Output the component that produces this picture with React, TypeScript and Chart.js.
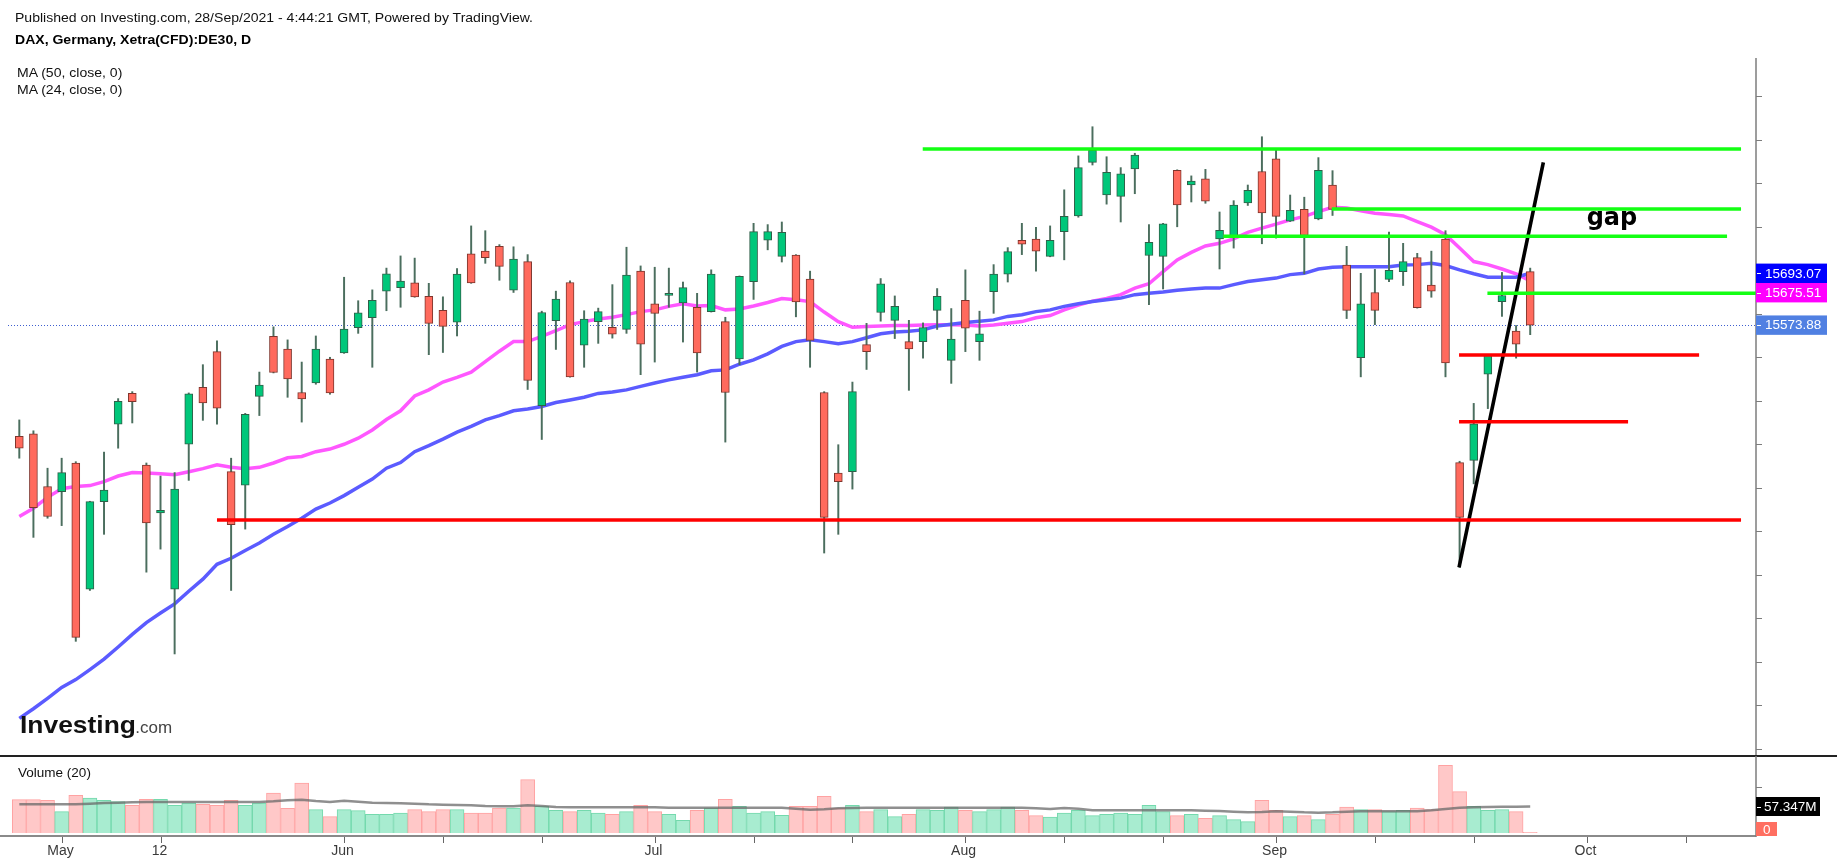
import React, { useEffect, useRef } from 'react';
import { Chart, registerables } from 'chart.js';

Chart.register(...registerables);

// ---------- data (bar index 0 = 28 Apr 2021) ----------
const OPEN = [15318,15324,15203,15191,15257,14967,15168,15346,15417,15252,15142,14967,15300,15431,15513,15237,15206,15410,15548,15519,15419,15441,15496,15510,15568,15591,15652,15660,15671,15640,15608,15581,15738,15744,15755,15654,15720,15389,15584,15672,15528,15582,15569,15564,15698,15623,15642,15625,15615,15605,15582,15496,15674,15769,15732,15735,15680,15419,15234,15237,15529,15603,15585,15536,15536,15608,15493,15631,15536,15651,15691,15769,15772,15732,15789,15825,15948,15873,15870,15933,15734,15732,15930,15896,15910,15772,15778,15855,15927,15956,15813,15840,15818,15896,15712,15499,15649,15679,15697,15729,15666,15772,15258,15263,15461,15628,15560,15697];
const HIGH = [15356,15331,15245,15268,15260,15169,15282,15405,15421,15257,15227,15235,15418,15483,15538,15268,15371,15466,15570,15540,15489,15549,15500,15684,15630,15655,15705,15733,15728,15670,15639,15704,15802,15791,15759,15754,15736,15606,15652,15676,15607,15613,15667,15753,15710,15707,15705,15673,15647,15701,15592,15687,15808,15805,15811,15736,15698,15421,15299,15443,15578,15681,15641,15585,15579,15658,15612,15701,15606,15713,15752,15808,15799,15802,15885,15963,16030,15961,15936,15969,15805,15808,15931,15917,15932,15834,15860,15896,16007,15979,15873,15868,15959,15929,15755,15693,15702,15788,15762,15739,15744,15791,15261,15394,15506,15695,15573,15705];
const LOW = [15268,15086,15130,15113,14847,14964,15093,15291,15349,15006,15059,14818,15217,15355,15346,14964,15105,15366,15464,15408,15351,15438,15415,15509,15555,15477,15607,15615,15638,15506,15511,15549,15670,15716,15677,15649,15426,15311,15518,15454,15477,15532,15544,15555,15460,15489,15615,15535,15466,15604,15305,15483,15633,15747,15719,15593,15477,15050,15093,15197,15472,15583,15543,15424,15498,15564,15440,15513,15493,15601,15673,15736,15698,15731,15724,15822,15942,15852,15811,15876,15621,15657,15800,15857,15854,15703,15751,15849,15761,15774,15812,15692,15816,15826,15589,15455,15575,15674,15665,15613,15638,15455,15017,15209,15382,15594,15498,15552];
const CLOSE = [15291,15154,15134,15235,14856,15168,15195,15399,15398,15119,15148,15197,15416,15395,15383,15115,15369,15436,15465,15450,15404,15519,15418,15565,15602,15631,15692,15675,15639,15578,15571,15691,15671,15729,15709,15726,15447,15603,15634,15455,15588,15605,15553,15689,15530,15601,15647,15660,15510,15691,15419,15686,15789,15789,15787,15627,15539,15132,15214,15421,15513,15669,15617,15519,15568,15640,15542,15567,15554,15691,15743,15760,15744,15769,15824,15936,15976,15925,15922,15965,15764,15807,15850,15905,15859,15792,15850,15884,15832,15824,15838,15780,15930,15840,15608,15623,15608,15700,15720,15614,15652,15487,15132,15347,15505,15642,15530,15573.88];

const MA50 = [14670,14692,14716,14741,14759,14782,14806,14834,14863,14890,14912,14933,14962,14990,15024,15038,15056,15073,15093,15111,15130,15151,15165,15182,15201,15220,15245,15258,15283,15297,15312,15328,15341,15356,15366,15377,15381,15387,15396,15402,15408,15417,15420,15425,15433,15441,15448,15454,15460,15469,15471,15484,15494,15508,15525,15536,15540,15536,15531,15536,15545,15554,15558,15560,15563,15572,15576,15580,15583,15586,15594,15598,15605,15609,15617,15623,15628,15632,15636,15644,15647,15650,15654,15657,15659,15659,15667,15674,15678,15682,15690,15693,15703,15707,15708,15708,15708,15708,15712,15713,15716,15711,15701,15692,15684,15684,15684,15693.07];
const MA24 = [15134,15153,15178,15198,15203,15205,15214,15227,15235,15234,15232,15230,15237,15244,15253,15247,15244,15247,15257,15269,15272,15283,15289,15300,15314,15333,15357,15377,15411,15425,15443,15454,15466,15490,15514,15536,15536,15548,15561,15575,15582,15588,15592,15598,15605,15609,15617,15623,15618,15619,15609,15611,15618,15626,15635,15632,15628,15604,15582,15569,15571,15572,15573,15573,15574,15575,15575,15574,15572,15574,15578,15582,15591,15596,15609,15620,15629,15635,15644,15659,15669,15697,15724,15741,15756,15762,15772,15787,15797,15806,15816,15824,15835,15845,15843,15837,15831,15828,15825,15812,15799,15782,15751,15720,15713,15703,15692,15675.51];

// volume in millions
const VOLUME = [72.1,72.1,70.7,46.2,81.5,75.7,70.7,67.8,59.9,72.9,72.9,59.9,64.9,62.0,59.9,70.7,59.9,64.9,86.6,53.4,108.2,50.5,35.3,50.5,48.3,40.4,40.4,43.3,50.5,46.2,50.5,50.5,43.3,43.3,54.1,54.1,115.4,57.7,49.0,46.2,49.0,43.3,40.4,46.2,59.9,46.2,40.4,27.4,49.0,54.1,72.9,57.7,43.3,46.2,38.2,57.7,57.7,79.3,54.1,59.9,46.2,50.5,35.3,40.4,50.5,49.0,56.3,49.0,46.2,50.5,56.3,49.0,37.5,34.6,43.3,49.0,37.5,40.4,43.3,40.4,59.9,46.2,37.5,40.4,31.7,37.5,28.9,24.5,70.7,49.0,35.3,37.5,28.9,40.4,56.3,50.5,50.5,46.2,49.0,54.1,50.5,146.4,89.4,57.7,49.0,50.5,46.2,1.4];
const VOLUME_MA = [62.0,62.0,62.0,62.0,62.0,63.5,64.9,65.6,66.4,67.1,67.1,67.1,67.1,67.1,67.1,67.1,67.1,67.1,68.5,70.7,72.1,69.2,67.1,70.0,67.8,65.6,64.9,64.2,63.5,62.0,61.3,60.6,59.9,58.4,57.7,57.7,59.9,58.4,56.3,55.5,55.5,55.5,55.5,55.5,55.5,55.5,54.8,54.8,54.8,54.8,54.8,54.8,54.8,54.8,54.8,52.7,50.5,51.2,53.4,54.1,54.8,54.8,54.8,54.8,54.8,54.8,54.8,54.8,54.8,54.8,54.8,54.8,53.4,51.9,54.1,52.7,49.0,49.0,49.0,49.0,49.0,49.0,49.0,49.0,48.3,47.6,46.2,44.7,45.4,46.9,46.2,44.7,44.0,44.7,46.2,46.9,46.9,46.9,46.9,46.9,49.0,51.9,54.8,55.5,56.3,57.0,57.0,57.347];

const TICK_IDX = [3,10,23,30,37,45,52,59,67,74,81,89,96,103,111,118];
const TICK_LABELS = ['May','12','Jun','','','Jul','','','Aug','','','Sep','','','Oct',''];

// drawn support / resistance levels (bar index range, price)
const GREEN_LEVELS = [15979, 15841, 15778, 15647];
const GREEN_FROM = [63.98, 92.95, 85.27, 103.97];
const GREEN_TO = [121.93, 121.93, 120.94, 123.0];
const RED_LEVELS = [15126, 15505, 15352];
const RED_FROM = [14.0, 101.96, 101.96];
const RED_TO = [121.93, 118.96, 113.93];
const TREND_X = [101.96, 107.93];
const TREND_Y = [15017, 15948];
const GAP_TEXT = { x: 111.0, y: 15803, text: 'gap' };

const LAST_MA50 = 15693.07;
const LAST_MA24 = 15675.51;
const LAST_CLOSE = 15573.88;
const VOL_MA_LABEL = '57.347M';
const VOL_MA_LAST = 57.347;

// ---------- layout ----------
const W = 1837;
const X_MIN = -1.367;
const X_MAX = 122.99;
const Y_MIN = 14588;
const Y_MAX = 16188;
const FONT = '"Liberation Sans", Arial, sans-serif';

const idx = OPEN.map((_, i) => i);
const up = idx.map((i) => CLOSE[i] >= OPEN[i]);

function lvl(from: number, to: number, p: number) {
  return [{ x: from, y: p }, { x: to, y: p }];
}

export default function App() {
  const mainRef = useRef<HTMLCanvasElement | null>(null);
  const volRef = useRef<HTMLCanvasElement | null>(null);

  useEffect(() => {
    if (!mainRef.current || !volRef.current) return;

    const mainOverlay = {
      id: 'mainOverlay',
      beforeDatasetsDraw(chart: any) {
        const { ctx, chartArea, scales } = chart;
        const y = scales.y.getPixelForValue(LAST_CLOSE);
        ctx.save();
        ctx.strokeStyle = '#3e5fd0';
        ctx.lineWidth = 1;
        ctx.setLineDash([1, 2]);
        ctx.beginPath();
        ctx.moveTo(8, Math.round(y) + 0.5);
        ctx.lineTo(chartArea.right, Math.round(y) + 0.5);
        ctx.stroke();
        ctx.restore();
      },
      afterDraw(chart: any) {
        const { ctx, chartArea, scales } = chart;
        const ys = scales.y;
        const xs = scales.x;
        const ax = chartArea.right;
        ctx.save();
        ctx.strokeStyle = '#7d7d7d';
        ctx.lineWidth = 1.5;
        ctx.beginPath();
        ctx.moveTo(ax, chartArea.top);
        ctx.lineTo(ax, chart.height);
        ctx.stroke();
        ctx.lineWidth = 1;
        for (let v = Math.ceil(Y_MIN / 100) * 100; v <= Y_MAX; v += 100) {
          const py = Math.round(ys.getPixelForValue(v)) + 0.5;
          ctx.beginPath();
          ctx.moveTo(ax, py);
          ctx.lineTo(ax + 6, py);
          ctx.stroke();
        }
        ctx.fillStyle = '#000';
        ctx.font = 'bold 24px "DejaVu Sans", sans-serif';
        ctx.textAlign = 'left';
        ctx.textBaseline = 'alphabetic';
        ctx.fillText(GAP_TEXT.text, xs.getPixelForValue(GAP_TEXT.x), ys.getPixelForValue(GAP_TEXT.y));
        const h = 19.4;
        const yB = ys.getPixelForValue(LAST_MA50);
        const yM = Math.max(ys.getPixelForValue(LAST_MA24), yB + h);
        const yC = ys.getPixelForValue(LAST_CLOSE);
        const tags = [
          { y: yB, c: '#0000ff', t: LAST_MA50.toFixed(2) },
          { y: yM, c: '#ff00ff', t: LAST_MA24.toFixed(2) },
          { y: yC, c: '#5080e2', t: LAST_CLOSE.toFixed(2) },
        ];
        ctx.font = '13.5px ' + FONT;
        ctx.textBaseline = 'middle';
        for (const tg of tags) {
          ctx.fillStyle = tg.c;
          ctx.fillRect(ax, tg.y - h / 2, 71, h);
          ctx.strokeStyle = '#ffffff';
          ctx.lineWidth = 1;
          ctx.beginPath();
          ctx.moveTo(ax + 1, Math.round(tg.y) + 0.5);
          ctx.lineTo(ax + 5, Math.round(tg.y) + 0.5);
          ctx.stroke();
          ctx.fillStyle = '#ffffff';
          ctx.fillText(tg.t, ax + 9, tg.y + 0.5);
        }
        ctx.restore();
      },
    };

    const volOverlay = {
      id: 'volOverlay',
      afterDraw(chart: any) {
        const { ctx, chartArea, scales } = chart;
        const xs = scales.x;
        const ys = scales.y;
        const ax = chartArea.right;
        const by = chartArea.bottom + 3;
        ctx.save();
        ctx.strokeStyle = '#8a8a8a';
        ctx.lineWidth = 2;
        ctx.beginPath();
        ctx.moveTo(0, by);
        ctx.lineTo(ax, by);
        ctx.stroke();
        ctx.strokeStyle = '#7d7d7d';
        ctx.lineWidth = 1.5;
        ctx.beginPath();
        ctx.moveTo(ax, 0);
        ctx.lineTo(ax, by + 1);
        ctx.stroke();
        ctx.lineWidth = 1;
        for (const v of [50, 100]) {
          const py = Math.round(ys.getPixelForValue(v)) + 0.5;
          ctx.beginPath();
          ctx.moveTo(ax, py);
          ctx.lineTo(ax + 6, py);
          ctx.stroke();
        }
        ctx.strokeStyle = '#666';
        ctx.fillStyle = '#3a3a3a';
        ctx.font = '14px ' + FONT;
        ctx.textAlign = 'center';
        ctx.textBaseline = 'middle';
        TICK_IDX.forEach((t, k) => {
          const px = Math.round(xs.getPixelForValue(t)) + 0.5;
          ctx.beginPath();
          ctx.moveTo(px, by + 1);
          ctx.lineTo(px, by + 7);
          ctx.stroke();
          if (TICK_LABELS[k]) ctx.fillText(TICK_LABELS[k], px - 2, by + 15);
        });
        const h = 19;
        const yv = ys.getPixelForValue(VOL_MA_LAST);
        ctx.fillStyle = '#000';
        ctx.fillRect(ax, yv - h / 2, 64, h);
        ctx.fillStyle = '#fff';
        ctx.textAlign = 'left';
        ctx.font = '13.5px ' + FONT;
        ctx.fillText(VOL_MA_LABEL, ax + 8, yv + 0.5);
        ctx.strokeStyle = '#fff';
        ctx.beginPath();
        ctx.moveTo(ax + 1, Math.round(yv) + 0.5);
        ctx.lineTo(ax + 5, Math.round(yv) + 0.5);
        ctx.stroke();
        ctx.fillStyle = '#ff6f61';
        ctx.fillRect(ax, by - 14, 21, 14);
        ctx.fillStyle = '#fff';
        ctx.fillText('0', ax + 7, by - 6);
        ctx.restore();
      },
    };

    const lineBase = { type: 'line' as const, pointRadius: 0, tension: 0, fill: false };

    const main = new Chart(mainRef.current, {
      type: 'bar',
      data: {
        datasets: [
          { ...lineBase, label: 'MA50', data: MA50.map((v, i) => ({ x: i, y: v })), borderColor: '#5b5bff', borderWidth: 3.5, order: 5 } as any,
          { ...lineBase, label: 'MA24', data: MA24.map((v, i) => ({ x: i, y: v })), borderColor: '#ff57ff', borderWidth: 3.5, order: 5 } as any,
          {
            type: 'bar', label: 'wick', data: idx.map((i) => ({ x: i, y: [LOW[i], HIGH[i]] })),
            backgroundColor: '#4b6e5e', barThickness: 1.3, grouped: false, order: 2,
          } as any,
          {
            type: 'bar', label: 'body', data: idx.map((i) => ({ x: i, y: [OPEN[i], CLOSE[i]] })),
            backgroundColor: idx.map((i) => (up[i] ? '#00c77a' : '#ff6a5d')),
            borderColor: idx.map((i) => (up[i] ? '#2f5f48' : '#7e352d')),
            borderWidth: 1, borderSkipped: false, barThickness: 8, grouped: false, minBarLength: 2, order: 1,
          } as any,
          ...GREEN_LEVELS.map((p, k) => ({ ...lineBase, label: 'g' + k, data: lvl(GREEN_FROM[k], GREEN_TO[k], p), borderColor: '#14ff14', borderWidth: 3.5, order: 0 } as any)),
          ...RED_LEVELS.map((p, k) => ({ ...lineBase, label: 'r' + k, data: lvl(RED_FROM[k], RED_TO[k], p), borderColor: '#ff0000', borderWidth: 3.5, order: 0 } as any)),
          { ...lineBase, label: 'trend', data: TREND_X.map((x, k) => ({ x, y: TREND_Y[k] })), borderColor: '#000000', borderWidth: 3.6, order: 0 } as any,
        ],
      },
      options: {
        animation: false,
        responsive: false,
        maintainAspectRatio: false,
        events: [],
        layout: { padding: { left: 0, right: W - 1756, top: 58, bottom: 2 } },
        plugins: { legend: { display: false }, tooltip: { enabled: false } },
        scales: {
          x: { type: 'linear', min: X_MIN, max: X_MAX, offset: false, display: false },
          y: { type: 'linear', min: Y_MIN, max: Y_MAX, display: false },
        },
      } as any,
      plugins: [mainOverlay],
    });

    const vol = new Chart(volRef.current, {
      type: 'bar',
      data: {
        datasets: [
          { ...lineBase, label: 'VolMA', data: VOLUME_MA.map((v, i) => ({ x: i, y: v })), borderColor: 'rgba(105,105,105,0.75)', borderWidth: 2.5, order: 0 } as any,
          {
            type: 'bar', label: 'Volume', data: VOLUME.map((v, i) => ({ x: i, y: v })),
            backgroundColor: idx.map((i) => (up[i] ? '#a8ecd0' : '#ffc8c8')),
            borderColor: idx.map((i) => (up[i] ? '#74d9ad' : '#ffa2a2')),
            borderWidth: 1, barThickness: 14, grouped: false, order: 1,
          } as any,
        ],
      },
      options: {
        animation: false,
        responsive: false,
        maintainAspectRatio: false,
        events: [],
        layout: { padding: { left: 0, right: W - 1756, top: 4, bottom: 33 } },
        plugins: { legend: { display: false }, tooltip: { enabled: false } },
        scales: {
          x: { type: 'linear', min: X_MIN, max: X_MAX, offset: false, display: false },
          y: { type: 'linear', min: 0, max: 158, display: false },
        },
      } as any,
      plugins: [volOverlay],
    });

    return () => {
      main.destroy();
      vol.destroy();
    };
  }, []);

  const txt: React.CSSProperties = {
    position: 'absolute', fontFamily: FONT, fontSize: 13, lineHeight: '16px', color: '#111',
    whiteSpace: 'nowrap', transform: 'scaleX(1.08)', transformOrigin: '0 50%',
  };

  return (
    <div style={{ position: 'fixed', left: 0, top: 0, width: W, height: 866, background: '#fff', overflow: 'hidden' }}>
      <canvas ref={mainRef} width={W} height={756} style={{ position: 'absolute', left: 0, top: 0, width: W, height: 756 }} />
      <div style={{ position: 'absolute', left: 0, top: 755, width: W, height: 2, background: '#222' }} />
      <canvas ref={volRef} width={W} height={110} style={{ position: 'absolute', left: 0, top: 756, width: W, height: 110 }} />
      <div style={{ ...txt, left: 15, top: 9.6 }}>Published on Investing.com, 28/Sep/2021 - 4:44:21 GMT, Powered by TradingView.</div>
      <div style={{ ...txt, left: 15, top: 31.8, fontWeight: 'bold', color: '#000' }}>DAX, Germany, Xetra(CFD):DE30, D</div>
      <div style={{ ...txt, left: 17, top: 64.6 }}>MA (50, close, 0)</div>
      <div style={{ ...txt, left: 17, top: 82.2 }}>MA (24, close, 0)</div>
      <div style={{ ...txt, left: 18, top: 765, transform: 'scaleX(1.04)' }}>Volume (20)</div>
      <div style={{ position: 'absolute', left: 20, top: 712, fontFamily: FONT, whiteSpace: 'nowrap', lineHeight: '25px' }}>
        <span style={{ display: 'inline-block', fontSize: 24, fontWeight: 'bold', color: '#111', transform: 'scaleX(1.1)', transformOrigin: '0 50%', marginRight: 10 }}>Investing</span>
        <span style={{ fontSize: 17, color: '#444' }}>.com</span>
      </div>
    </div>
  );
}
